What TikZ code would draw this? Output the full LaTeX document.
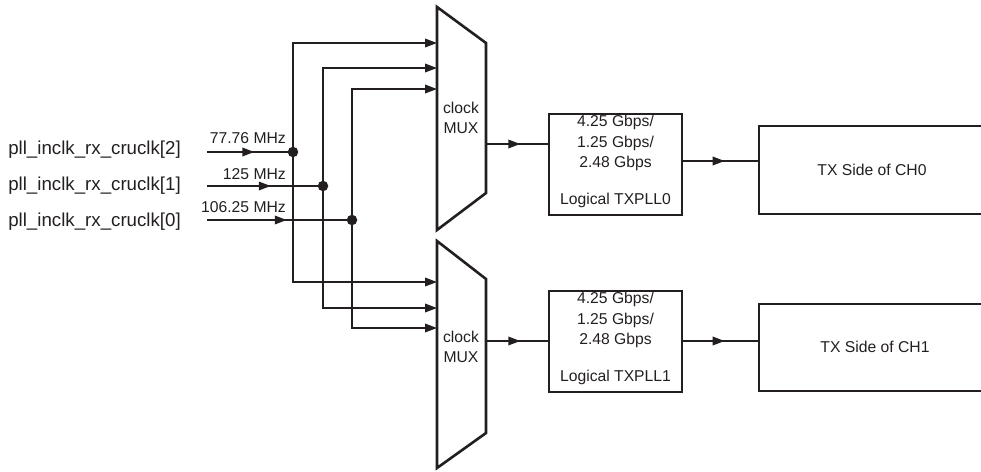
\documentclass[tikz,border=0pt]{standalone}
\usepackage{fontspec}
\setmainfont{Liberation Sans}
\usetikzlibrary{arrows.meta,decorations.markings}
\definecolor{ink}{HTML}{231F20}
\begin{document}
\begin{tikzpicture}[x=1pt,y=-1pt,
  wire/.style={draw=ink,line width=1.8pt},
  tipend/.style={-{Triangle[length=12pt,width=8.5pt]}},
  midarrow/.style={postaction={decorate},decoration={markings,mark=at position 0.55 with {\arrow{Triangle[length=12pt,width=8.5pt]}}}},
  muxshape/.style={draw=ink,line width=2.6pt,line join=miter},
  boxline/.style={draw=ink,line width=1.3pt},
  small/.style={font=\fontsize{15.7}{20.5}\selectfont,text=ink,inner sep=0pt},
  big/.style={font=\fontsize{18.7}{22}\selectfont,text=ink,inner sep=0pt},
  dot/.style={circle,fill=ink,minimum size=10.5pt,inner sep=0pt}]
\useasboundingbox (0,0) rectangle (981,471);

% MUX 0
\coordinate (m0tl) at (437,7);
\coordinate (m0tr) at (486,43);
\coordinate (m0br) at (486,193);
\coordinate (m0bl) at (437,230);
\draw[muxshape] (m0tl) -- (m0tr) -- (m0br) -- (m0bl) -- cycle;
\node[small,align=center] (mux0) at (461,118) {clock\\MUX};
% MUX 1
\coordinate (m1tl) at (437,241);
\coordinate (m1tr) at (486,279);
\coordinate (m1br) at (486,433);
\coordinate (m1bl) at (437,468);
\draw[muxshape] (m1tl) -- (m1tr) -- (m1br) -- (m1bl) -- cycle;
\node[small,align=center] (mux1) at (461,347) {clock\\MUX};

% MUX input points
\coordinate (m0a) at (437,43);
\coordinate (m0b) at (437,68);
\coordinate (m0c) at (437,89);
\coordinate (m1a) at (437,282);
\coordinate (m1b) at (437,308);
\coordinate (m1c) at (437,328);
\coordinate (m0out) at (486,144);
\coordinate (m1out) at (486,341);

% input labels and lines
\node[big,anchor=east] (l2) at (181,150) {pll\_inclk\_rx\_cruclk[2]};
\node[big,anchor=east] (l1) at (181,186) {pll\_inclk\_rx\_cruclk[1]};
\node[big,anchor=east] (l0) at (181,222) {pll\_inclk\_rx\_cruclk[0]};
\coordinate (s2) at (207,152);
\coordinate (s1) at (207,186);
\coordinate (s0) at (207,220);
\node[dot] (d2) at (293,152) {};
\node[dot] (d1) at (323,186) {};
\node[dot] (d0) at (352,220) {};
\node[small,anchor=east] (f2) at (286,138) {77.76 MHz};
\node[small,anchor=east] (f1) at (286,174) {125 MHz};
\node[small,anchor=east] (f0) at (286,207) {106.25 MHz};
\draw[wire,midarrow] (s2) -- (d2.center);
\draw[wire,midarrow] (s1) -- (d1.center);
\draw[wire,midarrow] (s0) -- (d0.center);

% bus to muxes
\draw[wire,tipend] (d2.center) |- (m0a);
\draw[wire,tipend] (d1.center) |- (m0b);
\draw[wire,tipend] (d0.center) |- (m0c);
\draw[wire,tipend] (d2.center) |- (m1a);
\draw[wire,tipend] (d1.center) |- (m1b);
\draw[wire,tipend] (d0.center) |- (m1c);

% PLL boxes
\node[boxline,minimum width=133pt,minimum height=101pt,inner sep=0pt] (pll0) at (615.5,164.5) {};
\node[small,align=center] (pll0t) at (615.5,143) {4.25 Gbps/\\1.25 Gbps/\\2.48 Gbps};
\node[small] (pll0l) at (615.5,200) {Logical TXPLL0};
\node[boxline,minimum width=133pt,minimum height=101pt,inner sep=0pt] (pll1) at (615.5,341.5) {};
\node[small,align=center] (pll1t) at (615.5,320) {4.25 Gbps/\\1.25 Gbps/\\2.48 Gbps};
\node[small] (pll1l) at (615.5,377) {Logical TXPLL1};

\draw[wire,midarrow] (m0out) -- (m0out -| pll0.west);
\draw[wire,midarrow] (m1out) -- (m1out -| pll1.west);

% TX boxes (open on the right)
\coordinate (tx0in) at (759,161);
\coordinate (tx1in) at (759,341);
\draw[boxline] (981,126) -- (759,126) -- (759,214) -- (981,214);
\draw[boxline] (981,304) -- (759,304) -- (759,391) -- (981,391);
\node[small] (tx0) at (872,170) {TX Side of CH0};
\node[small] (tx1) at (875,347) {TX Side of CH1};

\draw[wire,midarrow] (tx0in -| pll0.east) -- (tx0in);
\draw[wire,midarrow] (tx1in -| pll1.east) -- (tx1in);
\end{tikzpicture}
\end{document}
